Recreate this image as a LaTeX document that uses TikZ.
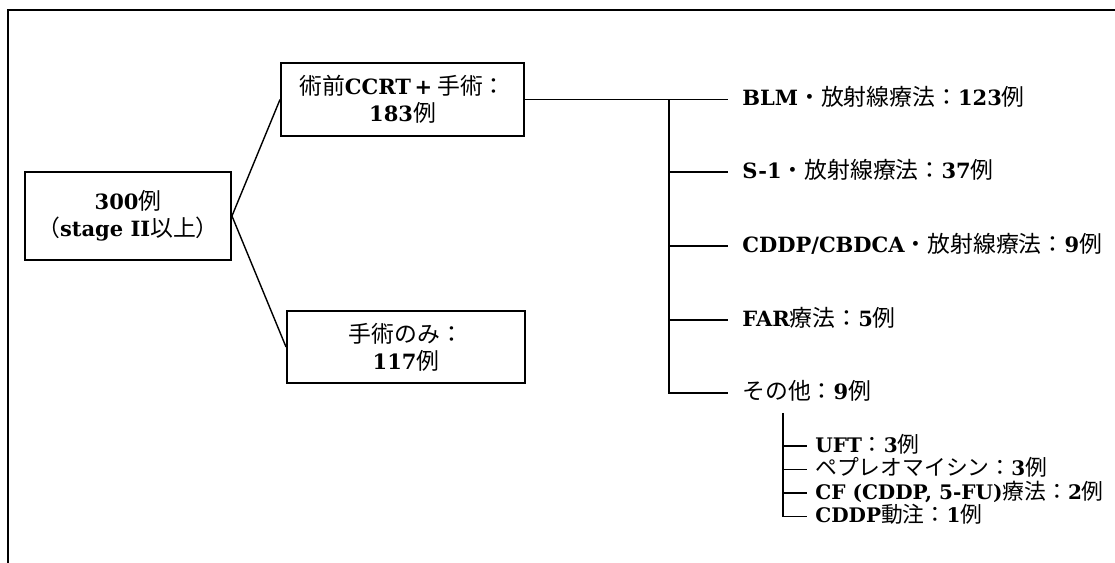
\documentclass[tikz,border=0pt]{standalone}
\usepackage{fontspec}
\newfontfamily\jp{Noto Sans CJK JP}
\newfontfamily\latbf[Scale=0.92]{DejaVu Serif}
\newcommand{\lat}[1]{{\latbf\bfseries #1}}
\usetikzlibrary{positioning}

\begin{document}
\begin{tikzpicture}[
  box/.style={draw,line width=1.1pt,align=center,inner sep=2pt,font=\fontsize{13}{15.5}\selectfont\jp},
  lbl/.style={anchor=west,inner sep=0pt,text height=0.85em,text depth=0.15em,font=\fontsize{13}{14}\selectfont\jp},
  sublbl/.style={lbl,font=\fontsize{12.4}{13}\selectfont\jp},
  conn/.style={line width=0.8pt}
]
  \useasboundingbox (0,0) rectangle (22.3,11.26);
  % frame
  \draw[line width=1.4pt] (0.16,0) -- (0.16,11.06) -- (22.3,11.06);

  % Patients
  \node[box,minimum width=4.12cm,minimum height=1.76cm] (total) at (2.56,6.94) {\lat{300}例\\（\lat{stage II}以上）};
  \node[box,minimum width=4.86cm,minimum height=1.46cm] (ccrt) at (8.05,9.27) {術前\lat{CCRT\,+} 手術：\\\lat{183}例};
  \node[box,minimum width=4.76cm,minimum height=1.44cm] (ope) at (8.12,4.32) {手術のみ：\\\lat{117}例};

  \draw[conn] (total.east) -- (ccrt.west);
  \draw[conn] (total.east) -- (ope.west);

  % Regimens
  \node[lbl] (blm) at (14.84,9.27) {\lat{BLM}・放射線療法：\lat{123}例};
  \node[lbl] (s1) at (14.84,7.82) {\lat{S-1}・放射線療法：\lat{37}例};
  \node[lbl] (cddp) at (14.84,6.34) {\lat{CDDP/CBDCA}・放射線療法：\lat{9}例};
  \node[lbl] (far) at (14.84,4.86) {\lat{FAR}療法：\lat{5}例};
  \node[lbl] (other) at (14.84,3.40) {その他：\lat{9}例};

  \coordinate (fork) at (13.38,9.27);
  \draw[conn] (ccrt.east) -- ([xshift=-0.28cm]blm.west);
  \draw[conn] (fork) -- (fork |- other.west) -- ([xshift=-0.28cm]other.west);
  \draw[conn] (fork |- s1.west) -- ([xshift=-0.28cm]s1.west);
  \draw[conn] (fork |- cddp.west) -- ([xshift=-0.28cm]cddp.west);
  \draw[conn] (fork |- far.west) -- ([xshift=-0.28cm]far.west);

  % Others in detail
  \node[sublbl] (uft) at (16.30,2.34) {\lat{UFT}：\lat{3}例};
  \node[sublbl] (pep) at (16.30,1.87) {ペプレオマイシン：\lat{3}例};
  \node[sublbl] (cf) at (16.30,1.40) {\lat{CF (CDDP, 5-FU)}療法：\lat{2}例};
  \node[sublbl] (ia) at (16.30,0.93) {\lat{CDDP}動注：\lat{1}例};

  \coordinate (subfork) at (15.66,3.0);
  \draw[conn] (subfork) -- (subfork |- ia.west) -- ([xshift=-0.16cm]ia.west);
  \draw[conn] (subfork |- uft.west) -- ([xshift=-0.16cm]uft.west);
  \draw[conn] (subfork |- pep.west) -- ([xshift=-0.16cm]pep.west);
  \draw[conn] (subfork |- cf.west) -- ([xshift=-0.16cm]cf.west);
\end{tikzpicture}
\end{document}
